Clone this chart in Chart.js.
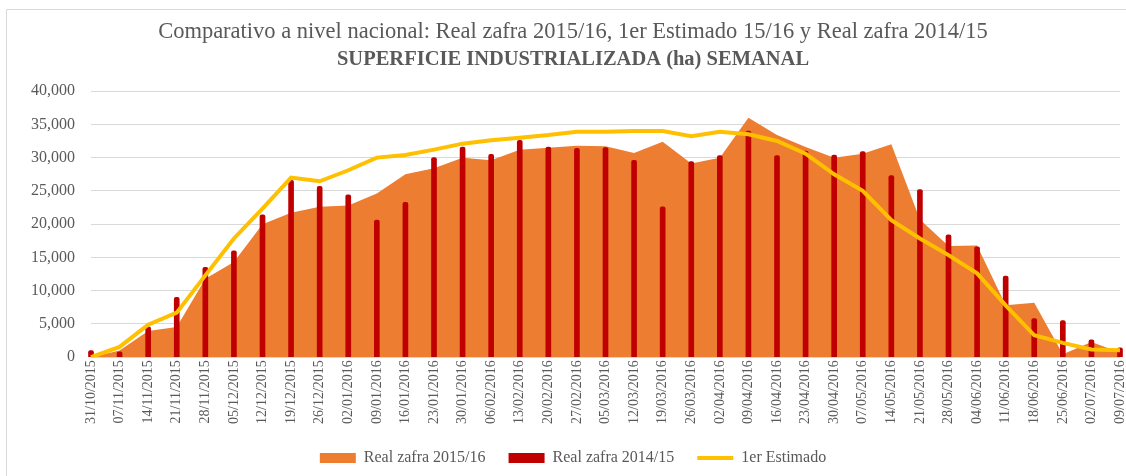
<!DOCTYPE html>
<html>
<head>
<meta charset="utf-8">
<script src="https://cdn.jsdelivr.net/npm/chart.js@4"></script>
<style>
    html, body { margin: 0; padding: 0; background: #fff; }
    #wrap { width: 1126px; height: 476px; }
</style>
</head>
<body>
<div id="wrap"><canvas id="superficie-chart"></canvas></div>
<script>
const weeks = ['31/10/2015', '07/11/2015', '14/11/2015', '21/11/2015', '28/11/2015', '05/12/2015',
    '12/12/2015', '19/12/2015', '26/12/2015', '02/01/2016', '09/01/2016', '16/01/2016', '23/01/2016',
    '30/01/2016', '06/02/2016', '13/02/2016', '20/02/2016', '27/02/2016', '05/03/2016', '12/03/2016',
    '19/03/2016', '26/03/2016', '02/04/2016', '09/04/2016', '16/04/2016', '23/04/2016', '30/04/2016',
    '07/05/2016', '14/05/2016', '21/05/2016', '28/05/2016', '04/06/2016', '11/06/2016', '18/06/2016',
    '25/06/2016', '02/07/2016', '09/07/2016'];

const zafra1516 = [0, 1000, 3950, 4550, 11800, 14300, 20000, 21700, 22600, 22800, 24600, 27500, 28400,
    30000, 29600, 31200, 31500, 31800, 31700, 30700, 32400, 29100, 30000, 36000, 33400, 31600, 30000,
    30600, 32000, 20700, 16700, 16800, 7800, 8200, 450, 2300, 700];

const zafra1415 = [1000, 800, 4550, 9000, 13500, 16000, 21400, 26600, 25700, 24400, 20600, 23300, 30000,
    31600, 30500, 32600, 31600, 31400, 31500, 29600, 22600, 29400, 30300, 34000, 30300, 31000, 30400,
    30900, 27300, 25200, 18400, 16600, 12200, 5800, 5500, 2600, 1400];

const estimado = [0, 1550, 4900, 6700, 12300, 17850, 22350, 27000, 26450, 28100, 30000, 30400, 31200,
    32100, 32600, 33000, 33400, 33900, 33900, 34000, 34000, 33200, 33900, 33500, 32500, 30600, 27500,
    25000, 20600, 17850, 15350, 12600, 7800, 3300, 2150, 1150, 1050];

const grey = '#595959';
const serif = 'Liberation Serif';

// marco gris claro como en Excel
const frame = {
    id: 'frame',
    beforeDraw(chart) {
        const ctx = chart.ctx;
        ctx.save();
        ctx.fillStyle = '#fff';
        ctx.fillRect(0, 0, chart.width, chart.height);
        ctx.strokeStyle = '#d9d9d9';
        ctx.lineWidth = 1;
        ctx.beginPath();
        ctx.moveTo(6.5, chart.height);
        ctx.lineTo(6.5, 9.5);
        ctx.lineTo(chart.width, 9.5);
        ctx.stroke();
        ctx.restore();
    }
};

document.addEventListener("DOMContentLoaded", () => {
    const canvas = document.getElementById('superficie-chart');
    new Chart(canvas, {
        type: 'bar',
        data: {
            labels: weeks,
            datasets: [
                {
                    type: 'line',
                    label: 'Real zafra 2015/16',
                    data: zafra1516,
                    fill: 'origin',
                    backgroundColor: '#ED7D31',
                    borderColor: '#ED7D31',
                    borderWidth: 0,
                    pointRadius: 0,
                    tension: 0,
                    order: 3
                },
                {
                    type: 'bar',
                    label: 'Real zafra 2014/15',
                    data: zafra1415,
                    backgroundColor: '#C00000',
                    barThickness: 5,
                    borderRadius: 2,
                    borderSkipped: 'bottom',
                    clip: false,
                    order: 2
                },
                {
                    type: 'line',
                    label: '1er Estimado',
                    data: estimado,
                    borderColor: '#FFC000',
                    backgroundColor: '#FFC000',
                    borderWidth: 4,
                    pointRadius: 0,
                    tension: 0,
                    fill: false,
                    order: 1
                }
            ]
        },
        options: {
            responsive: true,
            maintainAspectRatio: false,
            animation: false,
            layout: {
                padding: { left: 26, right: 6, top: 0, bottom: 0 }
            },
            plugins: {
                title: {
                    display: true,
                    text: 'Comparativo a nivel nacional: Real zafra 2015/16, 1er Estimado 15/16 y Real zafra 2014/15',
                    color: grey,
                    font: { family: serif, size: 22.5, weight: 'normal' },
                    padding: { top: 18.5, bottom: 0 }
                },
                subtitle: {
                    display: true,
                    text: 'SUPERFICIE INDUSTRIALIZADA (ha) SEMANAL',
                    color: grey,
                    font: { family: serif, size: 20.5, weight: 'bold' },
                    padding: { top: 2, bottom: 19 }
                },
                legend: {
                    position: 'bottom',
                    maxHeight: 49,
                    labels: {
                        color: grey,
                        font: { family: serif, size: 16 },
                        usePointStyle: true,
                        pointStyleWidth: 36,
                        boxHeight: 10,
                        padding: 23,
                        generateLabels(chart) {
                            const items = Chart.defaults.plugins.legend.labels.generateLabels(chart);
                            items.sort((a, b) => a.datasetIndex - b.datasetIndex);
                            items.forEach(item => {
                                const isLine = chart.data.datasets[item.datasetIndex].label === '1er Estimado';
                                item.pointStyle = isLine ? 'line' : 'rect';
                                item.lineWidth = isLine ? 4 : 0;
                            });
                            return items;
                        }
                    }
                },
                tooltip: { enabled: false }
            },
            scales: {
                x: {
                    offset: false,
                    grid: { display: false, drawTicks: false },
                    border: { display: false },
                    // que la primera y la última semana toquen los bordes del área
                    afterFit(scale) { scale.paddingLeft = 0; scale.paddingRight = 0; },
                    ticks: {
                        autoSkip: false,
                        minRotation: 90,
                        maxRotation: 90,
                        padding: 3,
                        color: grey,
                        font: { family: serif, size: 14 }
                    }
                },
                y: {
                    min: 0,
                    max: 40000,
                    afterFit(scale) { scale.width = 65; },
                    grid: { color: '#d9d9d9', drawTicks: false },
                    border: { display: false },
                    ticks: {
                        stepSize: 5000,
                        padding: 16,
                        color: grey,
                        font: { family: serif, size: 16 },
                        callback: v => v.toLocaleString('en-US')
                    }
                }
            }
        },
        plugins: [frame]
    });
});
</script>
</body>
</html>
